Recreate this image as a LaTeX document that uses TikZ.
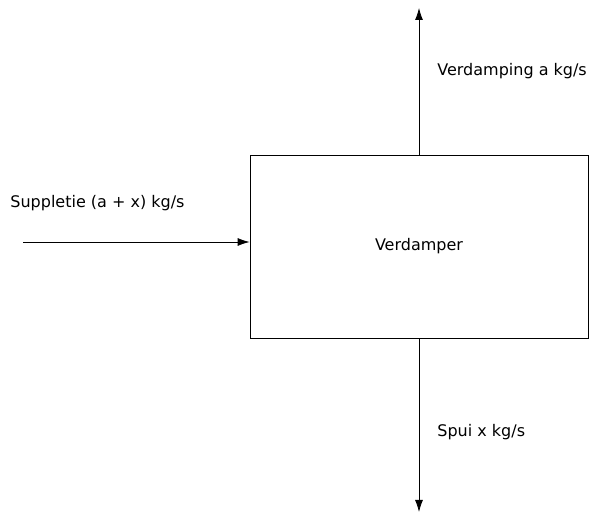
\documentclass[tikz,border=0pt]{standalone}
\usepackage{fontspec}
\setmainfont{DejaVu Sans}
\usepackage{tikz}
\usetikzlibrary{positioning,arrows.meta}

\begin{document}
\begin{tikzpicture}[x=1pt, y=-1pt, line width=0.8pt,
flow/.style = {-{Latex[length=12pt,width=8pt]}},
boxnode/.style={rectangle, draw, minimum width=338pt, minimum height=183pt, inner sep=0pt}]
\tikzstyle{every node}=[font=\fontsize{16}{18}\selectfont]
\useasboundingbox (0,0) rectangle (590,513);
\node[boxnode] (verdamper) at (419,246.5) {Verdamper};
\coordinate (top) at (419,8);
\coordinate (bottom) at (419,512);
\coordinate (in) at (23,242);
\node[anchor=west, inner sep=0pt] (verdamping) at (437,71) {Verdamping a kg/s};
\node[anchor=west, inner sep=0pt] (suppletie) at (10,203) {Suppletie (a + x) kg/s};
\node[anchor=west, inner sep=0pt] (spui) at (437,432) {Spui x kg/s};
\draw[flow] (verdamper.north) -- (top);
\draw[flow] (verdamper.south) -- (bottom);
\draw[flow] (in) -- (in -| verdamper.west);
\end{tikzpicture}
\end{document}
